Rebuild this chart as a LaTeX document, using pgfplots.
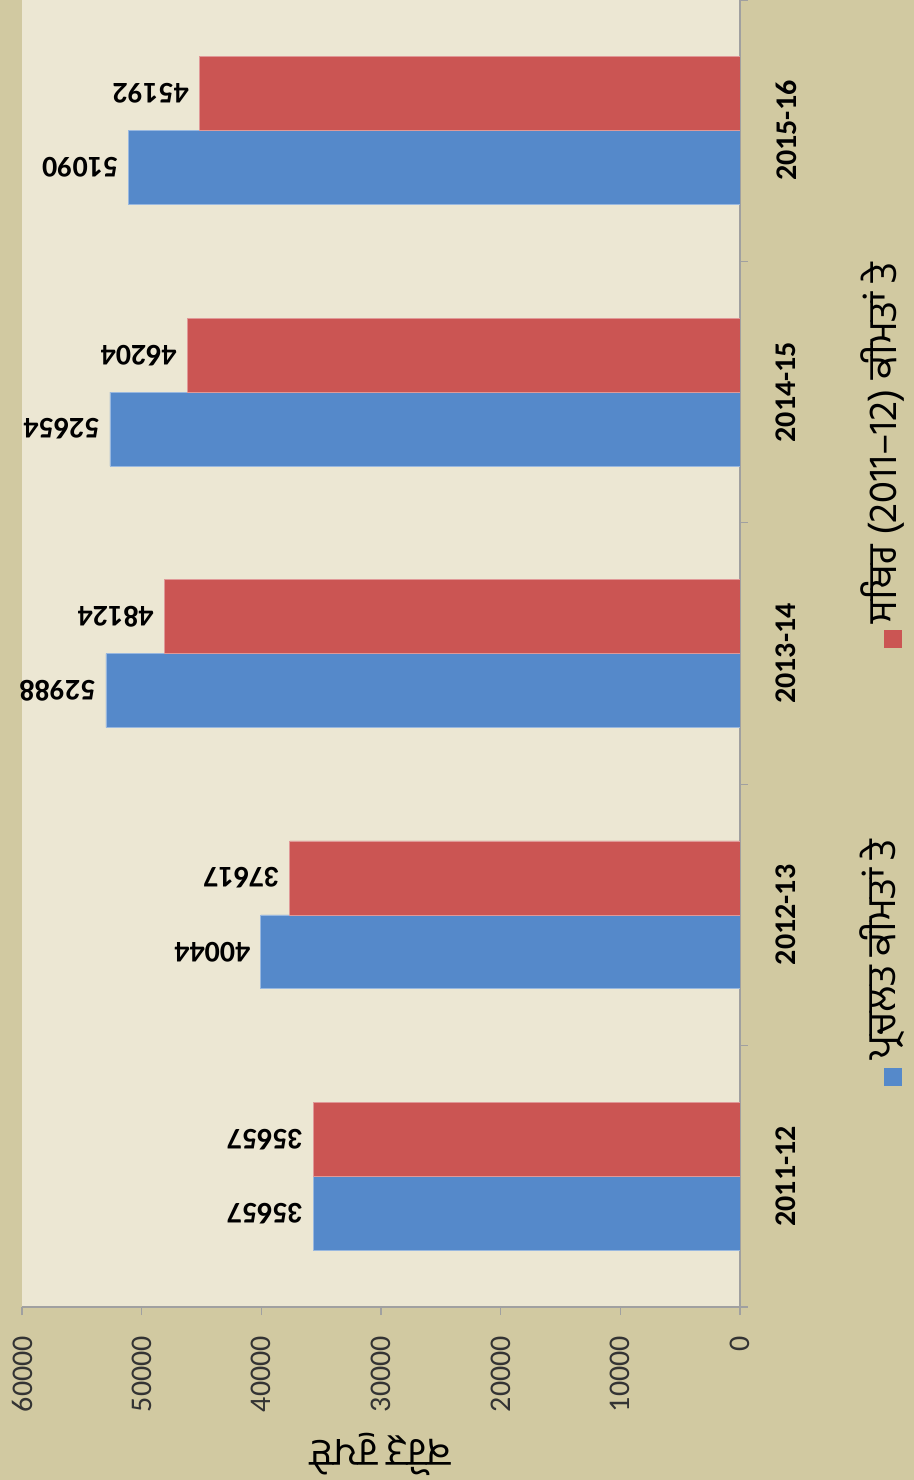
\documentclass[border=0pt]{standalone}
\usepackage{pgfplots}
\pgfplotsset{compat=1.18}
\usepackage{fontspec}
\setmainfont{Carlito}
\newfontfamily\gur[Script=Gurmukhi]{Hind Jalandhar}
\definecolor{outerbg}{HTML}{D1C9A1}
\definecolor{plotbg}{HTML}{ECE7D3}
\definecolor{cblue}{HTML}{5589CA}
\definecolor{cred}{HTML}{CB5553}
\definecolor{axgray}{HTML}{A0A0A0}
\begin{document}
\begin{tikzpicture}
\fill[outerbg] (0,0) rectangle (457pt,-740pt);
\path[use as bounding box] (0,0) rectangle (457pt,-740pt);
\begin{axis}[
  at={(190.5pt,-326.75pt)}, anchor=center,
  scale only axis, width=359pt, height=653.5pt,
  xbar, bar width=0.283,
  x dir=reverse, xmin=0, xmax=60000,
  xtick={0,10000,...,60000}, scaled x ticks=false,
  /pgf/number format/1000 sep={}, /pgf/number format/assume math mode=true,
  ymin=-0.5, ymax=4.5,
  ytick={0,1,2,3,4},
  yticklabels={2011-12,2012-13,2013-14,2014-15,2015-16},
  minor ytick={-0.5,0.5,1.5,2.5,3.5,4.5},
  major y tick style={draw=none},
  minor y tick style={axgray, line width=0.6pt},
  major x tick style={axgray, line width=0.6pt},
  tick align=outside, major tick length=4pt, minor tick length=4pt,
  axis x line*=bottom, axis y line*=right,
  axis line style={axgray, line width=0.6pt, -},
  axis background/.style={fill=plotbg},
  xticklabel shift=7pt,
  yticklabel shift=10.5pt,
  xticklabel style={rotate=90, anchor=east, text=black!80, font=\fontsize{15}{18}\selectfont},
  yticklabel style={rotate=90, anchor=north, font=\fontsize{15}{18}\selectfont\bfseries},
  point meta=x,
  nodes near coords,
  every node near coord/.append style={rotate=180, anchor=west, font=\fontsize{15}{18}\selectfont\bfseries, inner sep=5pt},
  xlabel={\gur ਕਰੋੜ ਰੁਪਏ},
  xlabel style={at={(axis description cs:0.5,-0.1125)}, anchor=center, rotate=180, font=\gur\fontsize{20}{24}\selectfont},
]
\addplot[fill=cblue, draw=cblue!60!white, line width=0.4pt, bar shift=-0.1415]
  coordinates {(35657,0) (40044,1) (52988,2) (52654,3) (51090,4)};
\addplot[fill=cred, draw=cred!60!white, line width=0.4pt, bar shift=0.1415]
  coordinates {(35657,0) (37617,1) (48124,2) (46204,3) (45192,4)};
\end{axis}
% legend (rotated, as in the reference)
\fill[cblue] (442pt,-534pt) rectangle (451pt,-543pt);
\node[rotate=90, anchor=west, inner sep=0pt, font=\gur\fontsize{20}{24}\selectfont] at (441pt,-530pt) {ਪ੍ਰਚਲਤ ਕੀਮਤਾਂ ਤੇ};
\fill[cred] (442pt,-315pt) rectangle (451pt,-324pt);
\node[rotate=90, anchor=west, inner sep=0pt, font=\gur\fontsize{20}{24}\selectfont] at (441pt,-312pt) {ਸਥਿਰ (2011–12) ਕੀਮਤਾਂ ਤੇ};
\end{tikzpicture}
\end{document}
